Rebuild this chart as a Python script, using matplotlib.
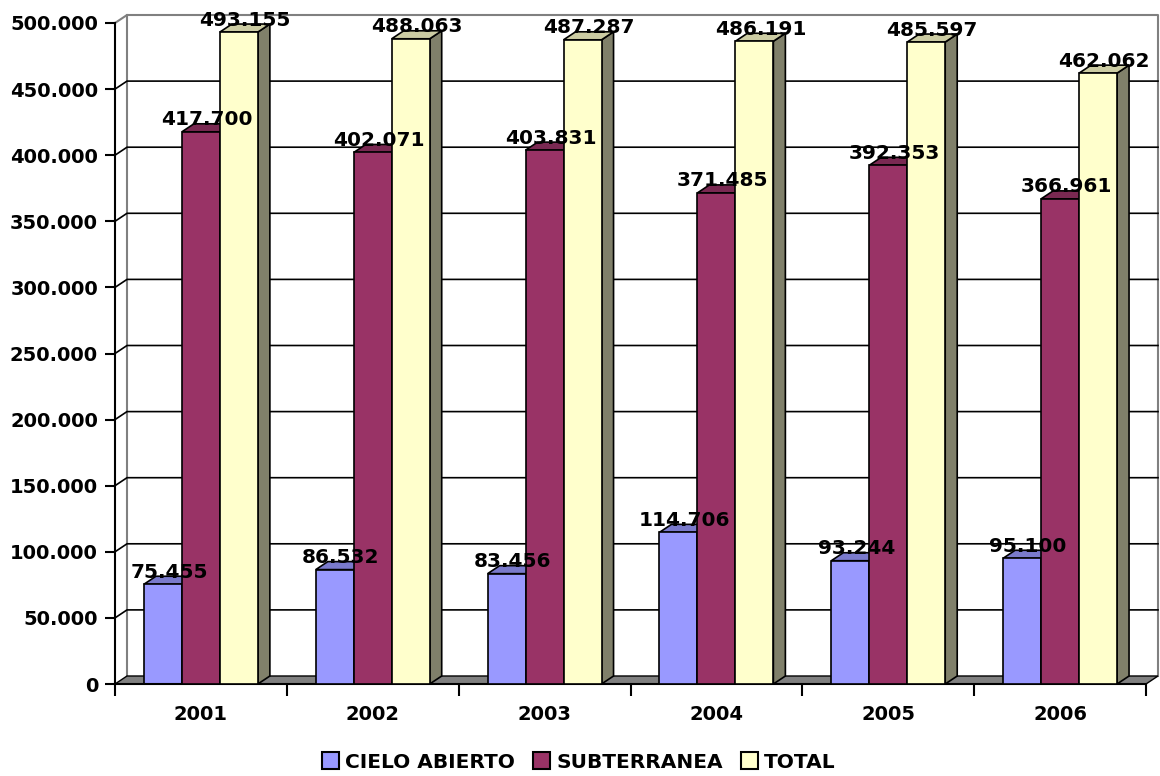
import numpy as np
import matplotlib
matplotlib.use('Agg')
import matplotlib.pyplot as plt
from matplotlib.patches import Polygon, Patch
from matplotlib.ticker import FuncFormatter, FixedLocator

# Datos
anios = ['2001', '2002', '2003', '2004', '2005', '2006']
cielo_abierto = [75455, 86532, 83456, 114706, 93244, 95100]
subterranea = [417700, 402071, 403831, 371485, 392353, 366961]
total = [493155, 488063, 487287, 486191, 485597, 462062]
series_nombres = ['CIELO ABIERTO', 'SUBTERRANEA', 'TOTAL']

# Colores (frente, tapa, lado)
col_frente = ['#9999ff', '#993366', '#ffffcc']
col_tapa = ['#7a7acc', '#7a2952', '#cccca3']
col_lado = ['#6b6bb3', '#6b2447', '#80806a']

plt.rcParams['font.family'] = ['DejaVu Sans']
plt.rcParams['font.weight'] = 'bold'

fig = plt.figure(figsize=(11.6, 7.76), dpi=100)
ax = fig.add_axes([115 / 1160, 92 / 776, 1031 / 1160, 661 / 776])
ax.set_xlim(0, len(anios))
ax.set_ylim(0, 500000)

# profundidad 3D en unidades de datos
p0 = ax.transData.transform((0, 0))
p1 = ax.transData.transform((1, 100000))
px_x = p1[0] - p0[0]
px_y = (p1[1] - p0[1]) / 100000
dxd = 12 / px_x
dyd = 8 / px_y

n = len(anios)
ymax = 500000

# Pared del fondo
gris = '#808080'
ax.plot([0, dxd, n + dxd, n + dxd], [ymax, ymax + dyd, ymax + dyd, dyd],
        color=gris, lw=1.5, clip_on=False, zorder=0.5)
ax.plot([dxd, dxd], [dyd, ymax + dyd], color=gris, lw=1.5, clip_on=False, zorder=0.5)

# Lineas de division
for v in range(50000, ymax, 50000):
    ax.plot([0, dxd, n + dxd], [v, v + dyd, v + dyd], color='black', lw=1.2,
            clip_on=False, zorder=0.6)

# Piso
piso = Polygon([(0, 0), (n, 0), (n + dxd, dyd), (dxd, dyd)], closed=True,
               facecolor=gris, edgecolor='black', lw=1, clip_on=False, zorder=1)
ax.add_patch(piso)

# Barras
ancho = 0.221
x = np.arange(n)
inicio = (1 - 3 * ancho) / 2
series = [cielo_abierto, subterranea, total]
z = 2
for i in range(n):
    for s in range(3):
        v = series[s][i]
        x0 = x[i] + inicio + s * ancho
        x1 = x0 + ancho
        lado = Polygon([(x1, 0), (x1 + dxd, dyd), (x1 + dxd, v + dyd), (x1, v)],
                       closed=True, facecolor=col_lado[s], edgecolor='black',
                       lw=1.2, clip_on=False, zorder=z)
        tapa = Polygon([(x0, v), (x0 + dxd, v + dyd), (x1 + dxd, v + dyd), (x1, v)],
                       closed=True, facecolor=col_tapa[s], edgecolor='black',
                       lw=1.2, clip_on=False, zorder=z)
        ax.add_patch(lado)
        ax.add_patch(tapa)
        ax.bar(x0, v, width=ancho, align='edge', color=col_frente[s],
               edgecolor='black', lw=1.2, zorder=z + 0.5, clip_on=False)
        z += 1

# Etiquetas de valores
for i in range(n):
    for s in range(3):
        v = series[s][i]
        xc = x[i] + inicio + (s + 0.5) * ancho
        ax.annotate(f'{v:,.0f}'.replace(',', '.'), (xc, v), xytext=(6, 12),
                    textcoords='offset pixels', ha='center', va='center',
                    fontsize=14.5, fontweight='bold', zorder=100,
                    annotation_clip=False)

# Ejes
for lado_eje in ['top', 'right']:
    ax.spines[lado_eje].set_visible(False)
ax.spines['left'].set_linewidth(1.5)
ax.spines['bottom'].set_linewidth(1.5)
ax.spines['left'].set_zorder(200)
ax.set_facecolor('none')

ax.yaxis.set_major_locator(FixedLocator(range(0, ymax + 1, 50000)))
ax.yaxis.set_major_formatter(FuncFormatter(lambda v, p: f'{v:,.0f}'.replace(',', '.')))
ax.tick_params(axis='y', length=7.2, width=1.5, pad=5, labelsize=14)
for t in ax.get_yticklabels():
    t.set_fontweight('bold')

ax.set_xticks(range(0, n + 1))
ax.set_xticklabels([''] * (n + 1))
ax.set_xticks(x + 0.5, minor=True)
ax.set_xticklabels(anios, minor=True, fontsize=14, fontweight='bold')
ax.tick_params(axis='x', which='major', length=8.6, width=1.5)
ax.tick_params(axis='x', which='minor', length=0, pad=15)

# Leyenda
handles = [Patch(facecolor=c, edgecolor='black', lw=1.5) for c in col_frente]
fig.legend(handles, series_nombres, loc='center', bbox_to_anchor=(579 / 1160, 1 - 762 / 776),
           ncol=3, frameon=False, handlelength=0.85, handleheight=0.85,
           handletextpad=0.3, columnspacing=0.9,
           prop={'weight': 'bold', 'size': 14.5})

fig.savefig('out.png', dpi=100)
